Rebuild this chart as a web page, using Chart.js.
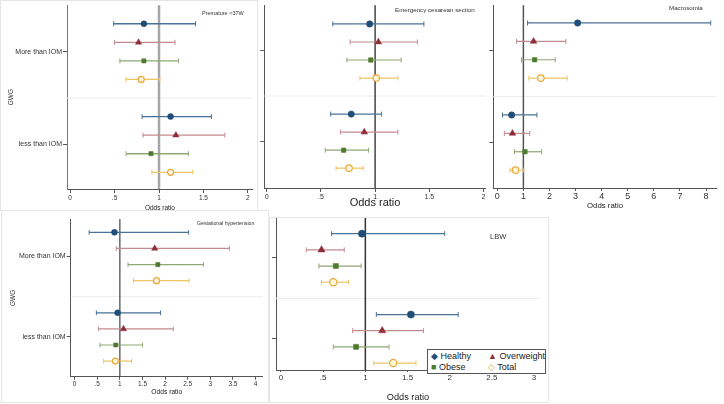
<!DOCTYPE html>
<html>
<head>
<meta charset="utf-8">
<script src="https://cdn.jsdelivr.net/npm/chart.js@4.4.1/dist/chart.umd.min.js"></script>
<style>
  html, body { margin: 0; padding: 0; background: #fff; overflow: hidden; }
  body { width: 724px; height: 404px; position: relative; font-family: 'Liberation Sans', Arial, sans-serif; }
  .panel { position: absolute; }
  .panel canvas { display: block; }
  .frame { position: absolute; border: 1px solid #e6e6e6; box-sizing: border-box; }
  .ttl { position: absolute; white-space: nowrap; color: #333; }
  #legend { position: absolute; left: 427px; top: 349px; width: 119px; height: 25px; box-sizing: border-box;
            border: 1px solid #555; background: #fff; font-size: 9px; color: #222; }
  #legend span { position: absolute; white-space: nowrap; line-height: 10px; }
</style>
</head>
<body>

<div class="frame" style="left:0;top:0;width:258px;height:211px;"></div>
<div class="frame" style="left:1px;top:210px;width:268px;height:193px;"></div>
<div class="frame" style="left:269px;top:217px;width:280px;height:186px;"></div>

<div class="panel" id="p1"></div>
<div class="panel" id="p2"></div>
<div class="panel" id="p3"></div>
<div class="panel" id="p4"></div>
<div class="panel" id="p5"></div>

<div class="ttl" style="left:202px;top:10px;font-size:5.5px;">Premature &lt;37W</div>
<div class="ttl" style="left:395px;top:6px;font-size:6.2px;">Emergency cesarean section</div>
<div class="ttl" style="left:669px;top:4px;font-size:6.2px;">Macrosomia</div>
<div class="ttl" style="left:197px;top:220px;font-size:5.2px;">Gestational hypertension</div>
<div class="ttl" style="left:490px;top:232px;font-size:7.5px;">LBW</div>

<div id="legend">
  <span style="left:3px;top:1px;"><b style="color:#1f4e79;font-weight:normal;">&#9670;</b> Healthy</span>
  <span style="left:60px;top:1px;"><b style="color:#8f2d38;font-weight:normal;">&#9650;</b> Overweight</span>
  <span style="left:3px;top:12px;"><b style="color:#4f7a2e;font-weight:normal;">&#9632;</b> Obese</span>
  <span style="left:60px;top:12px;"><b style="color:#e6a93a;font-weight:normal;">&#9671;</b> Total</span>
</div>

<script>
// ─── Data ────────────────────────────────────────────────────
// order in each array: Healthy, Overweight, Obese, Total (More than IOM),
// then Healthy, Overweight, Obese, Total (less than IOM)
const groups      = ['More than IOM', 'less than IOM'];
const seriesNames = ['Healthy', 'Overweight', 'Obese', 'Total'];
const rowPos      = [0, 1, 2, 3, 5, 6, 7, 8];
const groupPos    = [1.5, 6.5];
const sepPos      = 4;

const pretermOR   = [0.83, 0.77, 0.83, 0.80, 1.13, 1.19, 0.91, 1.13];
const pretermLow  = [0.49, 0.50, 0.56, 0.63, 0.81, 0.82, 0.63, 0.92];
const pretermHigh = [1.41, 1.18, 1.22, 1.01, 1.59, 1.74, 1.33, 1.38];

const ecsOR   = [0.95, 1.03, 0.96, 1.01, 0.78, 0.90, 0.71, 0.76];
const ecsLow  = [0.61, 0.77, 0.74, 0.86, 0.59, 0.68, 0.54, 0.64];
const ecsHigh = [1.45, 1.39, 1.24, 1.21, 1.06, 1.21, 0.94, 0.89];

const macroOR   = [3.08, 1.39, 1.43, 1.67, 0.55, 0.58, 1.06, 0.70];
const macroLow  = [1.16, 0.74, 0.93, 1.21, 0.20, 0.27, 0.66, 0.49];
const macroHigh = [8.18, 2.63, 2.22, 2.68, 1.52, 1.24, 1.70, 1.02];

const ghOR   = [0.88, 1.77, 1.84, 1.81, 0.95, 1.08, 0.91, 0.90];
const ghLow  = [0.32, 0.92, 1.18, 1.30, 0.48, 0.53, 0.56, 0.64];
const ghHigh = [2.52, 3.42, 2.85, 2.53, 1.90, 2.18, 1.50, 1.26];

const lbwOR   = [0.96, 0.48, 0.65, 0.62, 1.54, 1.20, 0.89, 1.33];
const lbwLow  = [0.60, 0.30, 0.45, 0.48, 1.13, 0.85, 0.62, 1.10];
const lbwHigh = [1.94, 0.75, 0.95, 0.80, 2.10, 1.69, 1.28, 1.60];

const ticks2 = [0, 0.5, 1, 1.5, 2];
const ticks3 = [0, 0.5, 1, 1.5, 2, 2.5, 3];
const ticks4 = [0, 0.5, 1, 1.5, 2, 2.5, 3, 3.5, 4];
const ticks8 = [0, 1, 2, 3, 4, 5, 6, 7, 8];

// ─── Styles ──────────────────────────────────────────────────
const markerStyle = ['circle', 'triangle', 'rect', 'circle'];
const markerFill  = ['#1f4e79', '#8f2d38', '#4f7a2e', '#fff6dc'];
const markerEdge  = ['#1f4e79', '#8f2d38', '#4f7a2e', '#e6a93a'];
const ciColor     = ['#4a7198', '#c48a90', '#8ea874', '#eec566'];
const FONT = "'Liberation Sans', Arial, sans-serif";

const fmt = v => (v > 0 && v < 1) ? String(v).replace(/^0/, '') : String(v);

// error bars, reference line at OR = 1 and group separator
const forestPlugin = {
  id: 'forest',
  beforeDatasetsDraw(chart, args, o) {
    const { ctx, chartArea: a, scales: { x, y } } = chart;
    ctx.save();
    const ys = y.getPixelForValue(sepPos);
    ctx.strokeStyle = '#ececec';
    ctx.lineWidth = 1;
    ctx.beginPath(); ctx.moveTo(a.left, ys); ctx.lineTo(a.right, ys); ctx.stroke();

    const xr = x.getPixelForValue(1);
    ctx.strokeStyle = o.refColor;
    ctx.lineWidth = o.refWidth;
    ctx.beginPath(); ctx.moveTo(xr, a.top); ctx.lineTo(xr, a.bottom); ctx.stroke();

    chart.data.datasets.forEach((ds, s) => {
      ctx.strokeStyle = ciColor[s];
      ds.data.forEach((p, i) => {
        const x0 = x.getPixelForValue(ds.lo[i]);
        const x1 = x.getPixelForValue(ds.hi[i]);
        const yy = y.getPixelForValue(p.y);
        ctx.lineWidth = o.ciWidth;
        ctx.beginPath(); ctx.moveTo(x0, yy); ctx.lineTo(x1, yy); ctx.stroke();
        ctx.lineWidth = 1;
        ctx.beginPath();
        ctx.moveTo(x0, yy - o.cap); ctx.lineTo(x0, yy + o.cap);
        ctx.moveTo(x1, yy - o.cap); ctx.lineTo(x1, yy + o.cap);
        ctx.stroke();
      });
    });
    ctx.restore();
  }
};

function makePanel(id, p, OR, lo, hi) {
  const wrap = document.getElementById(id);
  wrap.style.left = p.box.left + 'px';
  wrap.style.top  = p.box.top + 'px';
  const canvas = document.createElement('canvas');
  canvas.width = p.box.w;
  canvas.height = p.box.h;
  wrap.appendChild(canvas);

  const datasets = seriesNames.map((name, s) => ({
    label: name,
    data: [{ x: OR[s], y: rowPos[s] }, { x: OR[s + 4], y: rowPos[s + 4] }],
    lo: [lo[s], lo[s + 4]],
    hi: [hi[s], hi[s + 4]],
    pointStyle: markerStyle[s],
    pointRadius: markerStyle[s] === 'triangle' ? p.r + 0.6 : p.r,
    backgroundColor: markerFill[s],
    borderColor: markerEdge[s],
    borderWidth: s === 3 ? 1.2 : 0.5,
  }));

  new Chart(canvas, {
    type: 'scatter',
    data: { datasets },
    options: {
      responsive: false,
      animation: false,
      events: [],
      layout: { padding: { top: p.area.t, right: p.box.w - p.area.r, left: 0, bottom: 0 } },
      plugins: {
        legend: { display: false },
        tooltip: { enabled: false },
        forest: { refColor: p.refColor, refWidth: p.refWidth, ciWidth: p.ciWidth, cap: p.cap },
      },
      scales: {
        x: {
          type: 'linear', min: p.xMin, max: p.xMax,
          afterBuildTicks: sc => { sc.ticks = p.xTicks.map(v => ({ value: v })); },
          ticks: { callback: v => fmt(v), font: { family: FONT, size: p.tickFont }, color: '#333',
                   padding: p.tickPad, maxRotation: 0, autoSkip: false },
          grid: { drawOnChartArea: false, drawTicks: true, tickLength: p.tickLen, color: '#555' },
          border: { color: '#555', width: 1 },
          title: { display: true, text: 'Odds ratio', color: '#222',
                   font: { family: FONT, size: p.titleFont }, padding: { top: 0, bottom: p.titlePad } },
          afterFit: sc => { sc.height = p.box.h - p.area.b; sc.paddingLeft = 0; sc.paddingRight = 0; }
        },
        y: {
          type: 'linear', reverse: true, min: p.yMin, max: p.yMax,
          afterBuildTicks: sc => { sc.ticks = groupPos.map(v => ({ value: v })); },
          ticks: { display: p.yLabels, callback: v => groups[groupPos.indexOf(v)], autoSkip: false,
                   font: { family: FONT, size: 7 }, color: '#333', padding: 1 },
          grid: { drawOnChartArea: false, drawTicks: true, tickLength: 4, color: '#555' },
          border: { color: p.axisColor || '#555', width: 1 },
          title: { display: p.yLabels, text: 'GWG', color: '#333',
                   font: { family: FONT, size: 6.5 }, padding: { top: p.gwgPad || 0 } },
          afterFit: sc => { sc.width = p.area.l; sc.paddingTop = 0; sc.paddingBottom = 0; }
        }
      }
    },
    plugins: [forestPlugin]
  });
}

// ─── Panels ──────────────────────────────────────────────────
makePanel('p1', {
  box: { left: 0, top: 0, w: 258, h: 216 }, area: { l: 67, t: 3, r: 256, b: 189 },
  xMin: -0.035, xMax: 2.055, xTicks: ticks2, yMin: -1.0, yMax: 8.9,
  tickFont: 6.5, tickLen: 4, tickPad: 1, titleFont: 6.5, titlePad: 4,
  yLabels: true, gwgPad: 7.2, r: 3, refColor: '#a6a6a6', refWidth: 2.5, ciWidth: 1.3, cap: 2.5,
  axisColor: '#777'
}, pretermOR, pretermLow, pretermHigh);

makePanel('p2', {
  box: { left: 258, top: 0, w: 233, h: 212 }, area: { l: 6.3, t: 3, r: 228, b: 188 },
  xMin: -0.022, xMax: 2.021, xTicks: ticks2, yMin: -1.04, yMax: 9.1,
  tickFont: 7, tickLen: 4, tickPad: 1, titleFont: 11, titlePad: 2.4,
  yLabels: false, r: 3.2, refColor: '#444', refWidth: 1.5, ciWidth: 1.2, cap: 2.5
}, ecsOR, ecsLow, ecsHigh);

makePanel('p3', {
  box: { left: 486, top: 0, w: 238, h: 214 }, area: { l: 7.3, t: 3, r: 230.7, b: 188 },
  xMin: -0.153, xMax: 8.41, xTicks: ticks8, yMin: -0.966, yMax: 8.97,
  tickFont: 9, tickLen: 3, tickPad: 0.5, titleFont: 7.8, titlePad: 3.3,
  yLabels: false, r: 3.2, refColor: '#555', refWidth: 1.5, ciWidth: 1.2, cap: 2.5
}, macroOR, macroLow, macroHigh);

makePanel('p4', {
  box: { left: 0, top: 212, w: 268, h: 192 }, area: { l: 70.7, t: 7, r: 266.7, b: 164.7 },
  xMin: -0.087, xMax: 4.16, xTicks: ticks4, yMin: -0.83, yMax: 8.97,
  tickFont: 6.5, tickLen: 3, tickPad: 1, titleFont: 6.7, titlePad: 8,
  yLabels: true, gwgPad: 9.2, r: 3, refColor: '#444', refWidth: 1.2, ciWidth: 1.2, cap: 2.3
}, ghOR, ghLow, ghHigh);

makePanel('p5', {
  box: { left: 262, top: 212, w: 286, h: 194 }, area: { l: 14, t: 6, r: 278, b: 158 },
  xMin: -0.059, xMax: 3.07, xTicks: ticks3, yMin: -0.97, yMax: 8.43,
  tickFont: 8, tickLen: 2, tickPad: 0.5, titleFont: 9.2, titlePad: 3.2,
  yLabels: false, r: 3.6, refColor: '#333', refWidth: 1.5, ciWidth: 1.2, cap: 2.5
}, lbwOR, lbwLow, lbwHigh);
</script>
</body>
</html>
